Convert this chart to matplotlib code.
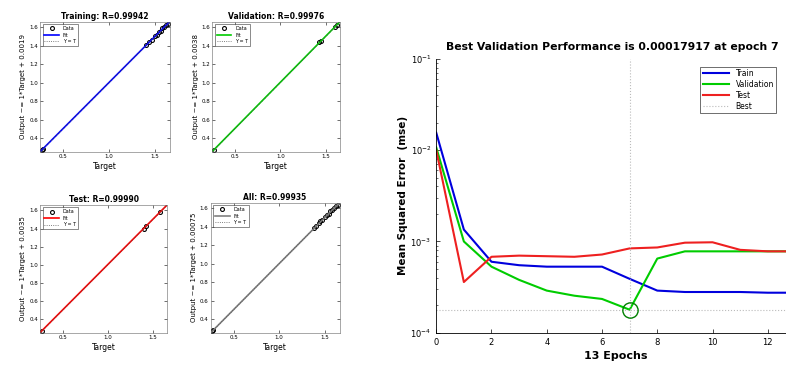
import numpy as np
import matplotlib
matplotlib.use('Agg')
from matplotlib import pyplot as plt

# regression panels: target / output values
reg_titles = ['Training: R=0.99942', 'Validation: R=0.99976', 'Test: R=0.99990', 'All: R=0.99935']
reg_ylabels = ['Output ~= 1*Target + 0.0019', 'Output ~= 1*Target + 0.0038',
               'Output ~= 1*Target + 0.0035', 'Output ~= 1*Target + 0.00075']
reg_colors = ['#0000ff', '#00cc00', '#ff0000', '#808080']
reg_target = [
    [0.27, 0.28, 1.40, 1.43, 1.47, 1.50, 1.52, 1.54, 1.56, 1.58, 1.60, 1.62, 1.64],
    [0.27, 1.43, 1.45, 1.60, 1.62],
    [0.27, 1.40, 1.42, 1.58],
    [0.27, 0.28, 1.38, 1.40, 1.43, 1.45, 1.47, 1.50, 1.52, 1.54, 1.56, 1.58, 1.60, 1.62, 1.64],
]
reg_output = [
    [0.27, 0.28, 1.41, 1.44, 1.46, 1.51, 1.52, 1.55, 1.56, 1.59, 1.60, 1.62, 1.64],
    [0.27, 1.44, 1.45, 1.60, 1.62],
    [0.27, 1.40, 1.43, 1.58],
    [0.27, 0.28, 1.39, 1.41, 1.44, 1.46, 1.47, 1.50, 1.53, 1.54, 1.57, 1.58, 1.60, 1.62, 1.64],
]
reg_intercept = [0.0019, 0.0038, 0.0035, 0.00075]

# performance curves (mse per epoch)
epochs = list(range(14))
mse_train = [1.55e-2, 1.35e-3, 6.0e-4, 5.5e-4, 5.3e-4, 5.3e-4, 5.3e-4, 3.9e-4, 2.9e-4, 2.8e-4, 2.8e-4, 2.8e-4, 2.75e-4, 2.75e-4]
mse_val = [1.07e-2, 1.0e-3, 5.3e-4, 3.8e-4, 2.9e-4, 2.55e-4, 2.35e-4, 1.7917e-4, 6.5e-4, 7.8e-4, 7.8e-4, 7.8e-4, 7.8e-4, 7.8e-4]
mse_test = [1.0e-2, 3.6e-4, 6.8e-4, 7.0e-4, 6.9e-4, 6.8e-4, 7.2e-4, 8.4e-4, 8.6e-4, 9.7e-4, 9.8e-4, 8.1e-4, 7.8e-4, 7.8e-4]
best_epoch = 7
best_perf = 0.00017917

fig = plt.figure(figsize=(7.86, 3.74), dpi=100)

pos = [[0.051, 0.594, 0.165, 0.348], [0.270, 0.594, 0.163, 0.348],
       [0.051, 0.110, 0.162, 0.342], [0.268, 0.110, 0.164, 0.348]]
for i in range(4):
    ax = fig.add_axes(pos[i])
    t = np.array(reg_target[i])
    o = np.array(reg_output[i])
    lims = [0.25, 1.66]
    ax.plot(t, o, 'o', mfc='none', mec='k', ms=2.8, mew=0.8, label='Data')
    ax.plot(lims, [v + reg_intercept[i] for v in lims], color=reg_colors[i], lw=1.2, label='Fit')
    ax.plot(lims, lims, ':', color='#555555', lw=0.6, label='Y = T')
    ax.set_xlim(lims)
    ax.set_ylim(lims)
    ax.set_xticks([0.5, 1, 1.5])
    ax.set_yticks([0.4, 0.6, 0.8, 1, 1.2, 1.4, 1.6])
    ax.tick_params(labelsize=4, length=2, width=0.4, pad=1.5, top=True, right=True, direction='in')
    for s in ax.spines.values():
        s.set_linewidth(0.4)
        s.set_color('#666666')
    ax.set_title(reg_titles[i], fontsize=5.5, fontweight='bold', pad=2)
    ax.set_xlabel('Target', fontsize=5.5, labelpad=2)
    ax.set_ylabel(reg_ylabels[i], fontsize=5, labelpad=2)
    ax.legend(loc='upper left', fontsize=3.5, frameon=True, fancybox=False, edgecolor='k',
              borderpad=0.4, handlelength=3, labelspacing=0.3).get_frame().set_linewidth(0.4)

ax = fig.add_axes([0.555, 0.110, 0.457, 0.733])
ax.plot(epochs, mse_train, color='#0000dd', lw=1.5, label='Train')
ax.plot(epochs, mse_val, color='#00cc00', lw=1.5, label='Validation')
ax.plot(epochs, mse_test, color='#ee2020', lw=1.5, label='Test')
ax.axvline(best_epoch, color='#bbbbbb', ls=':', lw=0.8, label='Best')
ax.axhline(best_perf, color='#bbbbbb', ls=':', lw=0.8)
ax.plot([best_epoch], [best_perf], 'o', mfc='none', mec='#008000', ms=11, mew=1.0)
ax.set_yscale('log')
ax.set_ylim(1e-4, 1e-1)
ax.set_xlim(0, 13)
ax.set_xticks([0, 2, 4, 6, 8, 10, 12])
ax.tick_params(labelsize=6, length=3, width=0.5, direction='in')
ax.tick_params(which='minor', length=1.5, width=0.4, direction='in')
for s in ['top', 'right']:
    ax.spines[s].set_visible(False)
for s in ['left', 'bottom']:
    ax.spines[s].set_linewidth(0.6)
ax.set_title('Best Validation Performance is 0.00017917 at epoch 7', fontsize=7.8, fontweight='bold',
             pad=6, x=0.49)
ax.set_xlabel('13 Epochs', fontsize=8, fontweight='bold', labelpad=3)
ax.set_ylabel('Mean Squared Error  (mse)', fontsize=7.5, fontweight='bold', labelpad=2)
leg = ax.legend(loc='upper left', bbox_to_anchor=(0.725, 0.985), fontsize=5.5, frameon=True, fancybox=False,
                edgecolor='k', borderpad=0.3, handlelength=3.5, labelspacing=0.25)
leg.get_frame().set_linewidth(0.5)

plt.savefig('out.png', dpi=100)
